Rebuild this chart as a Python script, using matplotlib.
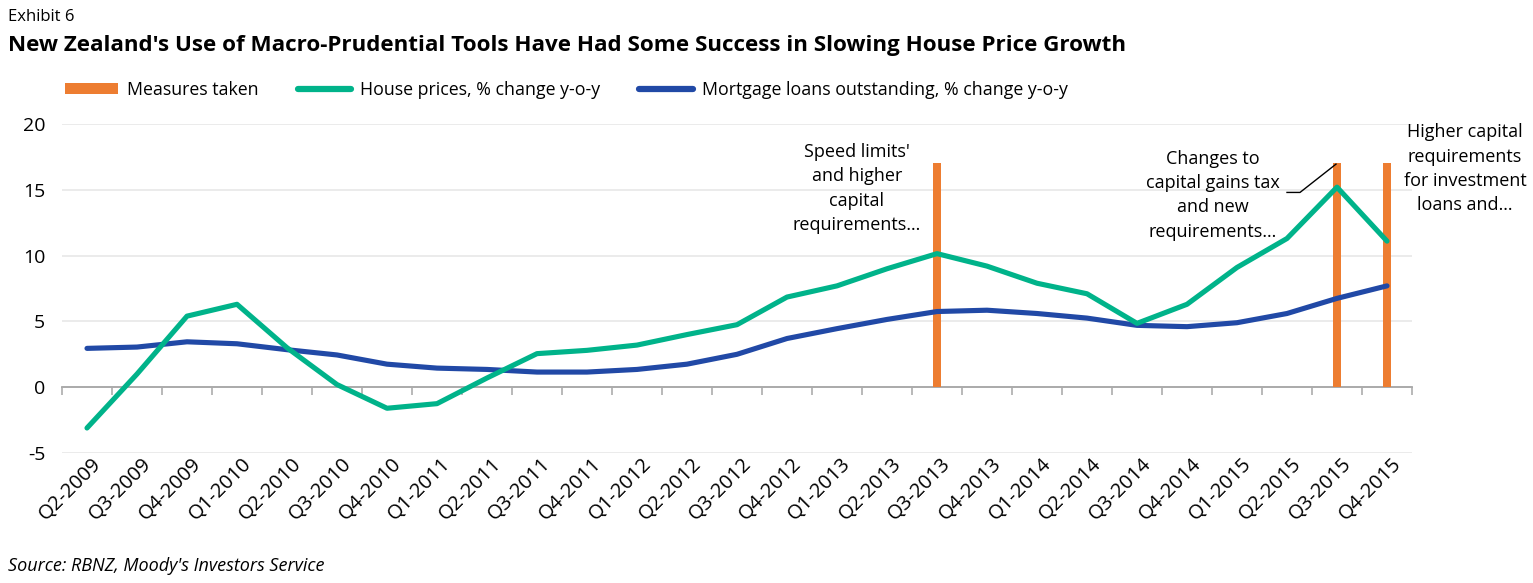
import matplotlib
matplotlib.use("Agg")
import matplotlib.pyplot as plt
import matplotlib.transforms as mtransforms
from matplotlib.lines import Line2D
from matplotlib.patches import Patch
import numpy as np

plt.rcParams['font.family'] = ['Open Sans', 'DejaVu Sans']

quarters = ["Q2-2009", "Q3-2009", "Q4-2009",
            "Q1-2010", "Q2-2010", "Q3-2010", "Q4-2010",
            "Q1-2011", "Q2-2011", "Q3-2011", "Q4-2011",
            "Q1-2012", "Q2-2012", "Q3-2012", "Q4-2012",
            "Q1-2013", "Q2-2013", "Q3-2013", "Q4-2013",
            "Q1-2014", "Q2-2014", "Q3-2014", "Q4-2014",
            "Q1-2015", "Q2-2015", "Q3-2015", "Q4-2015"]

house_prices = [-3.1, 1.0, 5.4, 6.3, 3.0, 0.2, -1.6, -1.25, 0.7, 2.55, 2.8,
                3.2, 4.0, 4.75, 6.85, 7.7, 9.0, 10.15, 9.2, 7.9, 7.1, 4.85,
                6.3, 9.1, 11.3, 15.2, 11.1]

mortgage_loans = [2.95, 3.05, 3.45, 3.3, 2.85, 2.45, 1.75, 1.45, 1.35, 1.15,
                  1.15, 1.35, 1.75, 2.5, 3.7, 4.45, 5.15, 5.75, 5.85, 5.6,
                  5.25, 4.7, 4.6, 4.9, 5.6, 6.75, 7.7]

measures_quarters = ["Q3-2013", "Q3-2015", "Q4-2015"]
measures_value = 17

annotations = [
    ("Speed limits'\nand higher\ncapital\nrequirements\u2026", 15.4, 15.1),
    ("Changes to\ncapital gains tax\nand new\nrequirements\u2026", 22.52, 14.6),
    ("Higher capital\nrequirements\nfor investment\nloans and\u2026", 27.56, 16.6),
]

c_orange = "#ED7D31"
c_green = "#00B38A"
c_blue = "#2149A6"

W, H = 1533, 583
fig = plt.figure(figsize=(W / 100, H / 100), dpi=100)
ax = fig.add_axes([62 / W, 1 - 453 / H, 1350 / W, (453 - 124) / H])

x = np.arange(len(quarters))
mx = [quarters.index(q) for q in measures_quarters]
ax.bar(mx, [measures_value] * len(mx), width=0.17, color=c_orange, zorder=2)
ax.plot(x, mortgage_loans, color=c_blue, lw=3.7, solid_capstyle='round',
        solid_joinstyle='round', zorder=3)
ax.plot(x, house_prices, color=c_green, lw=3.7, solid_capstyle='round',
        solid_joinstyle='round', zorder=4)

ax.set_xlim(-0.5, len(quarters) - 0.5)
ax.set_ylim(-5, 20)
ax.set_yticks([-5, 0, 5, 10, 15, 20])
ax.set_yticklabels(["-5", "0", "5", "10", "15", "20"])
ax.tick_params(axis='y', length=0, labelsize=14, pad=12, colors='black')
ax.grid(axis='y', color='#E6E6E6', lw=1.1, zorder=0)
ax.set_axisbelow(True)
for s in ax.spines.values():
    s.set_visible(False)

# zero axis line with tick marks at category boundaries
ax.spines['bottom'].set_visible(True)
ax.spines['bottom'].set_position(('data', 0))
ax.spines['bottom'].set_color('#A6A6A6')
ax.spines['bottom'].set_linewidth(1.3)
ax.spines['bottom'].set_zorder(1)
ax.set_xticks(np.arange(-0.5, len(quarters), 1.0))
ax.set_xticklabels([])
ax.tick_params(axis='x', length=6, width=1.1, color='#A6A6A6', direction='out')

# category labels below the plot
trans = mtransforms.blended_transform_factory(ax.transData, ax.transAxes)
for i, q in enumerate(quarters):
    ax.text(i + 0.22, -0.025, q, transform=trans, rotation=45,
            ha='right', va='center', rotation_mode='anchor', fontsize=14.5)

for txt, xi, yi in annotations:
    ax.text(xi, yi, txt, ha='center', va='center', fontsize=13,
            linespacing=1.45, clip_on=False)

# leader line for the second annotation
ax.plot([24.0, 24.26, 24.98], [14.8, 14.8, 16.95], color='black', lw=1.0,
        zorder=5, clip_on=False)

handles = [Patch(facecolor=c_orange, edgecolor='none'),
           Line2D([], [], color=c_green, lw=4.5, solid_capstyle='round'),
           Line2D([], [], color=c_blue, lw=4.5, solid_capstyle='round')]
labels = ["Measures taken", "House prices, % change y-o-y",
          "Mortgage loans outstanding, % change y-o-y"]
fig.legend(handles, labels, loc='center left', bbox_to_anchor=(65 / W, 1 - 90 / H),
           ncol=3, frameon=False, fontsize=12.8, handlelength=3.0,
           handleheight=0.6, handletextpad=0.5, columnspacing=2.2,
           borderaxespad=0, borderpad=0)

fig.text(8 / W, 1 - 17 / H, "Exhibit 6", fontsize=12, va='center', ha='left')
fig.text(8 / W, 1 - 45 / H,
         "New Zealand's Use of Macro-Prudential Tools Have Had Some Success in Slowing House Price Growth",
         fontsize=16.1, fontweight='bold', va='center', ha='left')
fig.text(8 / W, 1 - 566 / H, "Source: RBNZ, Moody's Investors Service",
         fontsize=13, style='italic', va='center', ha='left')

fig.savefig("out.png", dpi=100)
